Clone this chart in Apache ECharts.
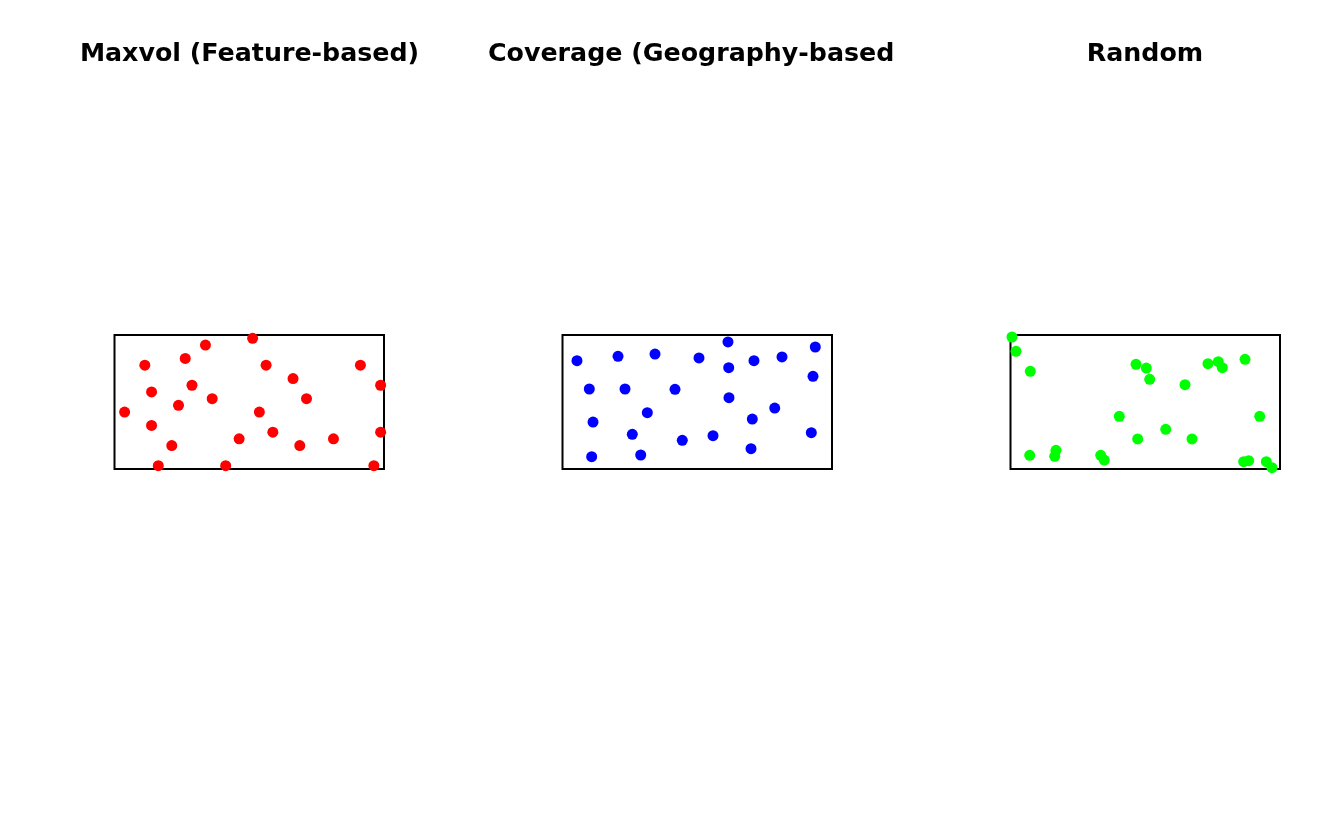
<!DOCTYPE html>
<html>
<head>
<meta charset="utf-8">
<script src="https://cdn.jsdelivr.net/npm/echarts@6/dist/echarts.min.js"></script>
<style>html,body{margin:0;padding:0;background:#fff}#c{width:1344px;height:830px}</style>
</head>
<body>
<div id="c"></div>
<script>
const titles = ["Maxvol (Feature-based)", "Coverage (Geography-based", "Random"];
const colors = ["#FF0000", "#0000FF", "#00FF00"];
const maxvolX = [4.5,10.5,13.5,20.5,22.5,36.5,26.5,39.5,5.5,11.5,14.5,28.5,1.5,9.5,21.5,5.5,23.5,39.5,8.5,18.5,27.5,32.5,6.5,16.5,38.5];
const maxvolY = [15.5,16.5,18.5,19.5,15.5,15.5,13.5,12.5,11.5,12.5,10.5,10.5,8.5,9.5,8.5,6.5,5.5,5.5,3.5,4.5,3.5,4.5,0.5,0.5,0.5];
const coverageX = [2.15,8.24,13.73,20.26,24.56,24.67,28.42,32.58,37.52,37.18,3.98,9.28,16.70,24.71,12.59,31.5,4.53,28.17,10.36,22.34,17.78,36.93,27.98,4.33,11.61];
const coverageY = [16.16,16.82,17.16,16.57,18.96,15.12,16.16,16.72,18.21,13.84,11.94,11.94,11.9,10.64,8.4,9.1,7.01,7.46,5.18,4.97,4.28,5.42,3.03,1.84,2.09];
const randomX = [0.22,0.82,2.94,18.63,20.16,20.66,25.9,29.31,30.84,31.44,34.81,16.15,36.99,23.04,18.88,26.94,2.85,6.75,6.56,13.39,13.92,34.61,35.35,37.97,38.81];
const randomY = [19.7,17.57,14.58,15.63,15.07,13.39,12.58,15.72,16.01,15.12,16.37,7.87,7.87,5.93,4.48,4.48,2.04,2.79,1.9,2.04,1.34,1.09,1.24,1.09,0.19];
const xs = [maxvolX, coverageX, randomX];
const ys = [maxvolY, coverageY, randomY];

const lefts = [114.5, 562.5, 1010.5];
const W = 269.5, TOP = 335, H = 134;
const grid = [], xAxis = [], yAxis = [], series = [], title = [];
for (let k = 0; k < 3; k++) {
  grid.push({left: lefts[k], top: TOP, width: W, height: H, show: true, borderColor: '#000', borderWidth: 2, backgroundColor: 'transparent'});
  xAxis.push({type: 'value', gridIndex: k, min: 0, max: 40, show: false});
  yAxis.push({type: 'value', gridIndex: k, min: 0, max: 20, show: false});
  series.push({
    type: 'scatter', xAxisIndex: k, yAxisIndex: k, clip: false,
    symbolSize: 11, itemStyle: {color: colors[k], opacity: 1},
    data: xs[k].map((v, i) => [v, ys[k][i]])
  });
}
const ts = {fontFamily: 'DejaVu Sans', fontWeight: 'bold', fontSize: 25.3, color: '#000'};
title.push({text: titles[0], left: 244.5, top: 37, textAlign: 'center', textStyle: ts});
title.push({text: titles[1], left: 483, top: 37, textAlign: 'left', textStyle: ts});
title.push({text: titles[2], left: 1140, top: 37, textAlign: 'center', textStyle: ts});

const chart = echarts.init(document.getElementById('c'), null, {renderer: 'canvas'});
chart.setOption({animation: false, backgroundColor: '#fff', title, grid, xAxis, yAxis, series});
</script>
</body>
</html>
